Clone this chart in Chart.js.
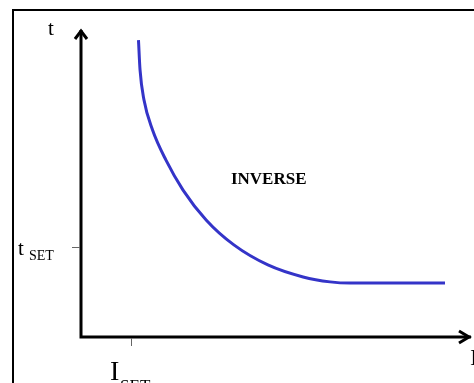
<!DOCTYPE html>
<html>
<head>
  <title>Inverse time curve</title>
  <script src="https://cdn.jsdelivr.net/npm/chart.js"></script>
  <style>
    body {
      margin: 0;
      background-color: white;
    }
    .chart-box {
      width: 474px;
      height: 383px;
    }
  </style>
</head>
<body>
  <div class="chart-box">
    <canvas id="inverseChart"></canvas>
  </div>

  <script>
    // curve (current on x, time on y, 0..100 each)
    const currentX = [14.7, 15.1, 16.1, 18.3, 21.7, 26.1, 32.0, 39.1, 47.8, 56.8, 63.7, 68.8, 93.1];
    const timeY    = [96.4, 86.7, 77.0, 67.2, 57.5, 47.7, 38.0, 29.9, 23.4, 19.5, 17.9, 17.5, 17.5];

    const xTickValues = [12.8];
    const xTickLabels = [['I', 'SET']];
    const yTickValues = [29.2];
    const yTickLabels = [['t', 'SET']];
    const xAxisTitle = 'I';
    const yAxisTitle = 't';
    const curveLabel = 'INVERSE';

    const points = currentX.map((x, i) => ({ x: x, y: timeY[i] }));

    const serif = '"Liberation Serif", "Times New Roman", serif';

    // frame, axes with arrows, ticks and labels
    const drawAxes = {
      id: 'drawAxes',
      afterDatasetsDraw(chart) {
        const ctx = chart.ctx;
        const xs = chart.scales.x;
        const ys = chart.scales.y;
        const x0 = xs.getPixelForValue(xs.min);
        const x1 = xs.getPixelForValue(xs.max);
        const y0 = ys.getPixelForValue(ys.min);
        const y1 = ys.getPixelForValue(ys.max);

        ctx.save();

        // outer frame (runs off right and bottom)
        ctx.strokeStyle = '#000';
        ctx.lineWidth = 2;
        ctx.strokeRect(13, 10, 500, 420);

        // axis lines
        ctx.lineWidth = 3;
        ctx.beginPath();
        ctx.moveTo(x0, y1 + 1);
        ctx.lineTo(x0, y0);
        ctx.lineTo(x1 - 1, y0);
        ctx.stroke();

        // arrow heads
        ctx.lineWidth = 3;
        ctx.lineJoin = 'miter';
        ctx.beginPath();
        ctx.moveTo(x0 - 6, y1 + 10);
        ctx.lineTo(x0, y1 + 2);
        ctx.lineTo(x0 + 6, y1 + 10);
        ctx.moveTo(x1 - 13, y0 - 6);
        ctx.lineTo(x1 - 3, y0);
        ctx.lineTo(x1 - 13, y0 + 6);
        ctx.stroke();

        // tick marks
        ctx.strokeStyle = '#666';
        ctx.lineWidth = 1;
        ctx.beginPath();
        xTickValues.forEach(v => {
          const px = Math.round(xs.getPixelForValue(v)) + 0.5;
          ctx.moveTo(px, y0 + 1);
          ctx.lineTo(px, y0 + 9);
        });
        yTickValues.forEach(v => {
          const py = Math.round(ys.getPixelForValue(v)) + 0.5;
          ctx.moveTo(x0 - 1, py);
          ctx.lineTo(x0 - 9, py);
        });
        ctx.stroke();

        // tick labels with subscripts
        ctx.fillStyle = '#000';
        ctx.textAlign = 'left';
        ctx.textBaseline = 'alphabetic';
        xTickValues.forEach((v, i) => {
          const px = xs.getPixelForValue(v);
          ctx.font = '28px ' + serif;
          ctx.fillText(xTickLabels[i][0], px - 21, y0 + 43);
          ctx.font = '17px ' + serif;
          ctx.fillText(xTickLabels[i][1], px - 11, y0 + 54);
        });
        yTickValues.forEach((v, i) => {
          const py = ys.getPixelForValue(v);
          ctx.font = '21px ' + serif;
          ctx.fillText(yTickLabels[i][0], 18, py + 8);
          ctx.font = '14px ' + serif;
          ctx.fillText(yTickLabels[i][1], 29, py + 13);
        });

        // axis titles
        ctx.font = '21px ' + serif;
        ctx.fillText(yAxisTitle, x0 - 33, y1 + 6);
        ctx.font = '24px ' + serif;
        ctx.fillText(xAxisTitle, x1 - 2, y0 + 28);

        // curve label
        ctx.font = 'bold 17px ' + serif;
        ctx.textAlign = 'center';
        ctx.fillText(curveLabel, xs.getPixelForValue(48), ys.getPixelForValue(49.7));

        ctx.restore();
      }
    };

    const ctx = document.getElementById('inverseChart').getContext('2d');

    const chart = new Chart(ctx, {
      type: 'scatter',
      data: {
        datasets: [{
          label: curveLabel,
          data: points,
          showLine: true,
          borderColor: '#3434c8',
          borderWidth: 3,
          pointRadius: 0,
          cubicInterpolationMode: 'monotone',
          fill: false
        }]
      },
      options: {
        responsive: true,
        maintainAspectRatio: false,
        animation: false,
        layout: {
          padding: { left: 81, top: 29, right: 2, bottom: 46 }
        },
        scales: {
          x: { type: 'linear', min: 0, max: 100, display: false },
          y: { type: 'linear', min: 0, max: 100, display: false }
        },
        plugins: {
          legend: { display: false },
          tooltip: { enabled: false }
        }
      },
      plugins: [drawAxes]
    });
  </script>
</body>
</html>
